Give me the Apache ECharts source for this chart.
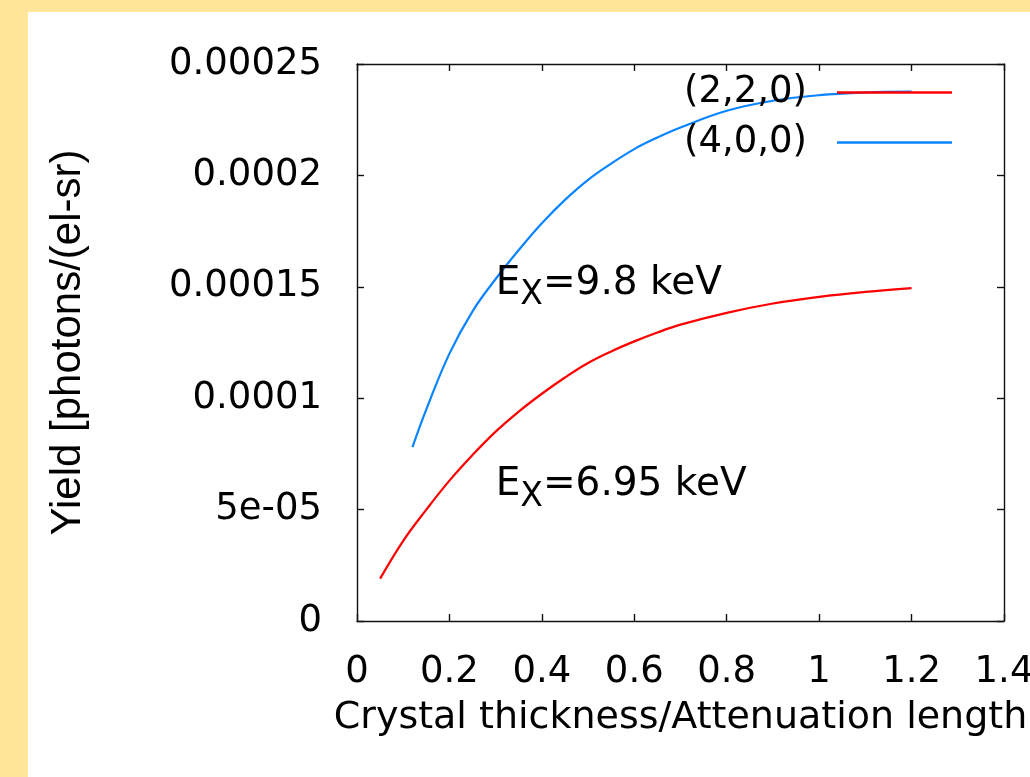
<!DOCTYPE html>
<html>
<head>
<meta charset="utf-8">
<script src="https://cdn.jsdelivr.net/npm/echarts@6/dist/echarts.min.js"></script>
<style>
  html, body { margin: 0; padding: 0; background: #ffe699; width: 1030px; height: 777px; overflow: hidden; }
  #chart { position: absolute; left: 28px; top: 12px; width: 1002px; height: 765px; background: #ffffff; }
</style>
</head>
<body>
<div id="chart"></div>
<script>
// ---- data ----
const seriesNames = ['(2,2,0)', '(4,0,0)'];
const redX = [0.05, 0.1, 0.15, 0.2, 0.25, 0.3, 0.35, 0.4, 0.45, 0.5, 0.55, 0.6, 0.65, 0.7, 0.8, 0.9, 1.0, 1.1, 1.2];
const redY = [1.9e-5, 3.6e-5, 5.0e-5, 6.3e-5, 7.45e-5, 8.5e-5, 9.4e-5, 1.02e-4, 1.093e-4, 1.158e-4, 1.21e-4, 1.255e-4, 1.295e-4, 1.33e-4, 1.383e-4, 1.425e-4, 1.455e-4, 1.477e-4, 1.494e-4];
const blueX = [0.12, 0.15, 0.2, 0.25, 0.3, 0.35, 0.4, 0.45, 0.5, 0.55, 0.6, 0.65, 0.7, 0.8, 0.9, 1.0, 1.1, 1.2];
const blueY = [7.8e-5, 9.5e-5, 1.2e-4, 1.39e-4, 1.535e-4, 1.665e-4, 1.785e-4, 1.89e-4, 1.98e-4, 2.053e-4, 2.118e-4, 2.17e-4, 2.215e-4, 2.29e-4, 2.335e-4, 2.36e-4, 2.372e-4, 2.376e-4];
const xTickLabels = ['0', '0.2', '0.4', '0.6', '0.8', '1', '1.2', '1.4'];
const yTickLabels = ['0', '5e-05', '0.0001', '0.00015', '0.0002', '0.00025'];
const xTitle = 'Crystal thickness/Attenuation length';
const yTitle = 'Yield [photons/(el-sr)';
const annotations = [
  { sub: 'X', text: '=9.8 keV', x: 0.3, y: 1.515e-4 },
  { sub: 'X', text: '=6.95 keV', x: 0.3, y: 6.1e-5 }
];

const FONT = 'DejaVu Sans';
const zip = (xs, ys) => xs.map((x, i) => [x, ys[i]]);

const chart = echarts.init(document.getElementById('chart'), null, { renderer: 'canvas' });

const axisLine = { show: true, onZero: false, lineStyle: { color: '#111', width: 1.4 } };
const axisTick = { show: true, inside: true, length: 7, lineStyle: { color: '#111', width: 1.4 } };

const option = {
  animation: false,
  backgroundColor: '#ffffff',
  grid: { left: 329, top: 52, right: 26, bottom: 156, containLabel: false, outerBoundsMode: 'none' },
  legend: {
    right: 78, top: 62, orient: 'vertical', align: 'right', padding: 0,
    icon: 'rect', itemWidth: 115, itemHeight: 2.5, itemGap: 13,
    textStyle: { fontFamily: FONT, fontSize: 37, color: '#000', padding: [0, 25, 0, 0] },
    data: seriesNames
  },
  xAxis: [
    {
      type: 'value', min: 0, max: 1.4, interval: 0.2, position: 'bottom',
      axisLine, axisTick, splitLine: { show: false },
      axisLabel: { margin: 33, fontFamily: FONT, fontSize: 37, color: '#000',
        formatter: (v) => xTickLabels[Math.round(v / 0.2)] },
      name: xTitle, nameLocation: 'middle', nameGap: 78,
      nameTextStyle: { fontFamily: FONT, fontSize: 38, color: '#000' }
    },
    {
      type: 'value', min: 0, max: 1.4, interval: 0.2, position: 'top',
      axisLine, axisTick, splitLine: { show: false }, axisLabel: { show: false }
    }
  ],
  yAxis: [
    {
      type: 'value', min: 0, max: 0.00025, interval: 0.00005, position: 'left',
      axisLine, axisTick, splitLine: { show: false },
      axisLabel: { margin: 35, fontFamily: FONT, fontSize: 37, color: '#000',
        formatter: (v) => yTickLabels[Math.round(v / 0.00005)] },
      name: yTitle, nameLocation: 'middle', nameGap: 268, nameRotate: 90,
      nameTextStyle: { fontFamily: 'Liberation Sans', fontSize: 42, color: '#000' }
    },
    {
      type: 'value', min: 0, max: 0.00025, interval: 0.00005, position: 'right',
      axisLine, axisTick, splitLine: { show: false }, axisLabel: { show: false }
    }
  ],
  series: [
    {
      name: seriesNames[0], type: 'line', data: zip(redX, redY), smooth: 0.4,
      showSymbol: false, symbol: 'none', color: '#ff0000',
      lineStyle: { color: '#ff0000', width: 2.2 }
    },
    {
      name: seriesNames[1], type: 'line', data: zip(blueX, blueY), smooth: 0.4,
      showSymbol: false, symbol: 'none', color: '#0a84ff',
      lineStyle: { color: '#0a84ff', width: 2.2 }
    }
  ]
};
chart.setOption(option);

const graphics = annotations.map(a => {
  const p = chart.convertToPixel({ xAxisIndex: 0, yAxisIndex: 0 }, [a.x, a.y]);
  return {
    type: 'text', x: p[0], y: p[1], z: 100,
    style: {
      text: '{e|E}{s|' + a.sub + '}{e|' + a.text + '}',
      align: 'left', verticalAlign: 'middle',
      rich: {
        e: { fontFamily: FONT, fontSize: 39, lineHeight: 42, fill: '#000', verticalAlign: 'middle' },
        s: { fontFamily: FONT, fontSize: 33, lineHeight: 34, fill: '#000', padding: [24, 0, 0, 0], verticalAlign: 'middle' }
      }
    }
  };
});
chart.setOption({ graphic: graphics });
</script>
</body>
</html>
